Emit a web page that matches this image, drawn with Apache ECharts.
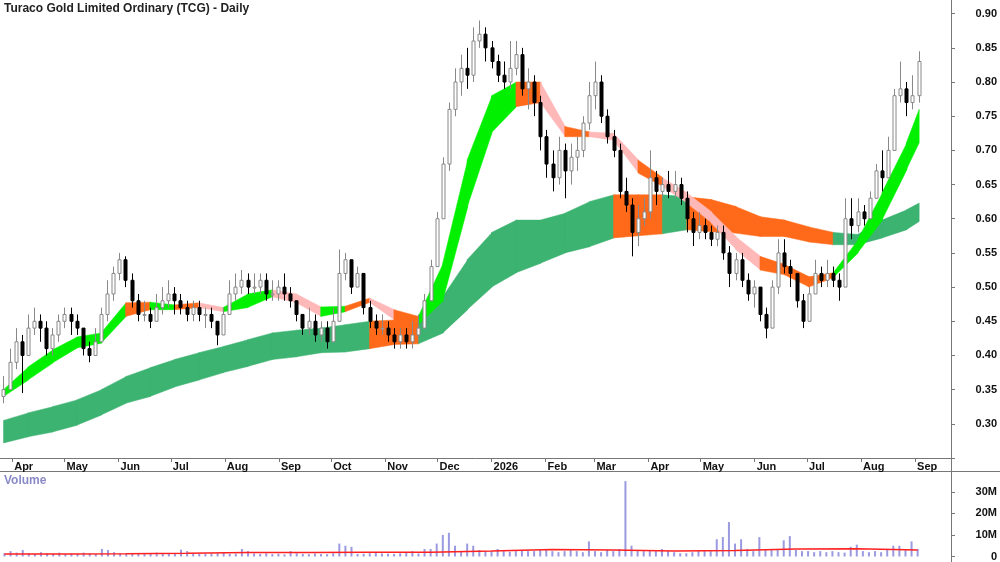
<!DOCTYPE html>
<html><head><meta charset="utf-8">
<script src="https://cdn.jsdelivr.net/npm/echarts@6/dist/echarts.min.js"></script>
<style>html,body{margin:0;padding:0;background:#fff}#c{width:1000px;height:562px}</style>
</head><body><div id="c"></div>
<script>
// OHLC bars [open, close, low, high], one every half week starting 2025-03-27
const bars = [
[0.34,0.35,0.33,0.37],[0.35,0.39,0.35,0.41],[0.39,0.42,0.38,0.44],[0.42,0.40,0.345,0.43],[0.40,0.44,0.40,0.46],
[0.44,0.45,0.43,0.47],[0.45,0.44,0.42,0.46],[0.44,0.41,0.40,0.45],[0.41,0.43,0.40,0.44],[0.43,0.45,0.42,0.46],
[0.45,0.46,0.44,0.47],[0.46,0.45,0.43,0.47],[0.45,0.44,0.43,0.46],[0.44,0.41,0.40,0.44],[0.41,0.40,0.39,0.42],
[0.40,0.42,0.40,0.44],[0.42,0.46,0.42,0.47],[0.46,0.49,0.45,0.51],[0.49,0.52,0.48,0.53],[0.52,0.54,0.51,0.55],
[0.54,0.51,0.50,0.545],[0.51,0.48,0.47,0.52],[0.48,0.46,0.45,0.49],[0.46,0.46,0.45,0.48],[0.46,0.45,0.44,0.47],
[0.45,0.47,0.45,0.49],[0.47,0.48,0.46,0.50],[0.48,0.49,0.47,0.51],[0.49,0.48,0.46,0.50],[0.48,0.47,0.46,0.49],
[0.47,0.46,0.45,0.48],[0.46,0.47,0.45,0.48],[0.47,0.46,0.45,0.48],[0.46,0.46,0.44,0.47],[0.46,0.45,0.44,0.47],
[0.45,0.43,0.415,0.45],[0.43,0.46,0.43,0.47],[0.46,0.49,0.46,0.51],[0.49,0.50,0.48,0.52],[0.50,0.51,0.49,0.525],
[0.51,0.50,0.49,0.52],[0.50,0.50,0.49,0.52],[0.50,0.51,0.49,0.52],[0.51,0.49,0.48,0.52],[0.49,0.49,0.48,0.51],
[0.49,0.50,0.48,0.51],[0.50,0.49,0.48,0.52],[0.49,0.48,0.47,0.50],[0.48,0.46,0.45,0.48],[0.46,0.44,0.43,0.46],
[0.44,0.45,0.43,0.47],[0.45,0.43,0.42,0.46],[0.43,0.44,0.42,0.45],[0.44,0.42,0.41,0.45],[0.42,0.45,0.42,0.47],
[0.45,0.52,0.45,0.555],[0.52,0.54,0.51,0.55],[0.54,0.50,0.49,0.54],[0.50,0.52,0.50,0.53],[0.52,0.47,0.46,0.52],
[0.47,0.45,0.44,0.48],[0.45,0.44,0.43,0.46],[0.44,0.44,0.43,0.46],[0.44,0.43,0.42,0.45],[0.43,0.42,0.41,0.44],
[0.42,0.43,0.41,0.44],[0.43,0.42,0.41,0.44],[0.42,0.43,0.41,0.45],[0.43,0.44,0.42,0.46],[0.44,0.48,0.44,0.49],
[0.48,0.53,0.48,0.54],[0.53,0.60,0.53,0.61],[0.60,0.68,0.60,0.69],[0.68,0.76,0.67,0.77],[0.76,0.80,0.75,0.82],
[0.80,0.82,0.78,0.84],[0.82,0.81,0.79,0.85],[0.81,0.86,0.80,0.88],[0.86,0.87,0.85,0.89],[0.87,0.85,0.83,0.88],
[0.85,0.83,0.82,0.86],[0.83,0.81,0.80,0.84],[0.81,0.80,0.79,0.83],[0.80,0.82,0.79,0.86],[0.82,0.84,0.81,0.86],
[0.84,0.79,0.78,0.85],[0.79,0.80,0.76,0.82],[0.80,0.77,0.75,0.81],[0.77,0.72,0.70,0.78],[0.72,0.68,0.66,0.73],
[0.68,0.66,0.64,0.70],[0.66,0.70,0.65,0.72],[0.70,0.67,0.63,0.71],[0.67,0.69,0.65,0.71],[0.69,0.70,0.67,0.72],
[0.70,0.74,0.69,0.75],[0.74,0.78,0.73,0.80],[0.78,0.80,0.76,0.83],[0.80,0.75,0.74,0.81],[0.75,0.72,0.71,0.76],
[0.72,0.70,0.69,0.73],[0.70,0.64,0.63,0.71],[0.64,0.62,0.61,0.66],[0.62,0.58,0.545,0.63],[0.58,0.60,0.56,0.62],
[0.60,0.61,0.59,0.63],[0.61,0.66,0.60,0.70],[0.66,0.64,0.62,0.67],[0.64,0.65,0.63,0.66],[0.65,0.64,0.63,0.67],
[0.64,0.65,0.63,0.67],[0.65,0.63,0.62,0.66],[0.63,0.60,0.58,0.64],[0.60,0.58,0.56,0.61],[0.58,0.59,0.57,0.61],
[0.59,0.58,0.57,0.60],[0.58,0.57,0.56,0.59],[0.57,0.58,0.56,0.59],[0.58,0.55,0.54,0.59],[0.55,0.52,0.50,0.56],
[0.52,0.54,0.51,0.55],[0.54,0.51,0.50,0.55],[0.51,0.49,0.48,0.52],[0.49,0.50,0.47,0.51],[0.50,0.46,0.45,0.50],
[0.46,0.44,0.425,0.47],[0.44,0.50,0.44,0.51],[0.50,0.55,0.49,0.57],[0.55,0.53,0.52,0.57],[0.53,0.52,0.50,0.54],
[0.52,0.48,0.47,0.52],[0.48,0.45,0.44,0.49],[0.45,0.49,0.45,0.50],[0.49,0.52,0.49,0.54],[0.52,0.51,0.50,0.53],
[0.51,0.52,0.50,0.54],[0.52,0.51,0.50,0.53],[0.51,0.50,0.48,0.52],[0.50,0.60,0.50,0.63],[0.60,0.59,0.57,0.63],
[0.59,0.61,0.58,0.63],[0.61,0.60,0.59,0.62],[0.60,0.63,0.60,0.64],[0.63,0.67,0.63,0.68],[0.67,0.66,0.64,0.70],
[0.66,0.70,0.66,0.72],[0.70,0.78,0.70,0.79],[0.78,0.79,0.77,0.83],[0.79,0.77,0.75,0.80],[0.77,0.78,0.76,0.81],
[0.78,0.83,0.77,0.845]
];
// volume in millions, one per bar
const volume = [
1.5,2.5,1.8,3,1.5,1.2,2,1.5,1.3,1.8, 1.2,1.5,1.3,1.8,1.4,1.2,3.5,3,2,1.5,
1.4,1.2,1.5,1.6,1.3,1.8,1.2,1.4,1.5,3.2, 2.5,1.5,1.3,1.2,1.4,1.5,1.8,1.2,1.3,3.5,
2.5,1.4,1.2,1.5,1.1,1.3,1.0,2.5,1.5,1.2, 1.1,1.4,1.2,1.1,1.5,6,5,4.5,1.2,1.3,
1.5,2.0,1.4,1.3,1.2,1.5,1.8,2.5,1.4,3.5, 3.5,6,10,11,5,2.5,6,5,3,2.5,
2.5,3.5,2.5,2.2,2.5,3,2.5,2.5,3,3.5, 2.5,2,2.5,3,2.5,2,7,2.5,2,3,
2.5,3.5,35,5,2.5,2.5,3,2.5,3.5,2.5, 2,1.5,1.5,2,2.5,2.5,2.5,8,9,16,
6,8,3.5,2.5,9,3,3.5,3,7.5,9.5, 3,2.5,2.5,2,2.5,2,2.5,2,1.8,4.5,
5.5,2.5,2,2.5,2,3,5,5,3,7, 3.5
];
// average volume (millions), one value every 10 bars
const avgVolume = [1.2,1.3,1.5,1.8,1.8,2.0,2.0,2.5,3.3,3.0,2.6,2.8,3.5,3.6,3.0,3.0];
// short ribbon every 4 bars: top, bottom, colour code (g=green, o=orange, p=pink)
const shortTop = [0.35,0.383,0.408,0.427,0.433,0.477,0.478,0.474,0.477,0.47,0.49,0.496,0.49,0.471,0.472,0.484,0.467,0.457,0.535,0.686,0.78,0.80,0.80,0.735,0.727,0.725,0.686,0.66,0.638,0.61,0.574,0.545,0.533,0.515,0.521,0.569,0.638,0.711,0.76];
const shortBot = [0.34,0.364,0.389,0.411,0.418,0.457,0.467,0.467,0.470,0.464,0.47,0.486,0.477,0.457,0.464,0.478,0.452,0.445,0.48,0.617,0.726,0.764,0.77,0.72,0.72,0.715,0.667,0.647,0.623,0.594,0.555,0.525,0.518,0.50,0.514,0.55,0.598,0.672,0.711];
const shortCol = ['g','g','g','g','g','g','o','g','o','p','g','g','p','p','g','o','p','o','g','g','g','g','o','p','o','p','p','o','p','p','p','p','o','o','o','g','g','g','g'];
// long ribbon every 4 bars
const longTop = [0.305,0.316,0.325,0.335,0.35,0.369,0.382,0.394,0.404,0.413,0.423,0.433,0.437,0.44,0.445,0.45,0.452,0.452,0.486,0.54,0.58,0.598,0.598,0.608,0.625,0.635,0.635,0.635,0.632,0.628,0.618,0.603,0.598,0.588,0.58,0.577,0.598,0.613,0.623];
const longBot = [0.272,0.281,0.288,0.298,0.313,0.33,0.34,0.354,0.364,0.375,0.384,0.394,0.398,0.404,0.405,0.41,0.416,0.417,0.433,0.467,0.50,0.521,0.535,0.55,0.559,0.572,0.575,0.578,0.584,0.581,0.579,0.574,0.574,0.566,0.562,0.562,0.572,0.584,0.596];
const longCol = ['g','g','g','g','g','g','g','g','g','g','g','g','g','g','g','g','o','o','g','g','g','g','g','g','g','g','o','o','g','o','o','o','o','o','o','g','g','g','g'];
const monthNames = ['Jan','Feb','Mar','Apr','May','Jun','Jul','Aug','Sep','Oct','Nov','Dec'];

const DAY = 86400000;
const t0 = Date.UTC(2025,2,27);
const tOf = i => t0 + i*3.5*DAY;
const xMin = Date.UTC(2025,2,25), xMax = xMin + 545.6*DAY;
const ribIdx = k => Math.min(k*4, bars.length-1);
const colors = {g:'#00f000', o:'#ff6a1a', p:'#ffb8b8', G:'#3cb371'};

const candleData = bars.map((b,i)=>[tOf(i), b[0], b[1], b[2], b[3]]);
function ribbonData(top, bot, col, longR){
  const out=[];
  for(let k=1;k<top.length;k++){
    out.push([tOf(ribIdx(k-1)), tOf(ribIdx(k)), top[k-1], top[k], bot[k-1], bot[k], (longR && col[k]==='g')?'G':col[k]]);
  }
  return out;
}
function ribbonRender(params, api){
  const a=api.coord([api.value(0),api.value(2)]), b=api.coord([api.value(1),api.value(3)]);
  const c=api.coord([api.value(1),api.value(5)]), d=api.coord([api.value(0),api.value(4)]);
  const col = colors[api.value(6)];
  return {type:'polygon', shape:{points:[a,[b[0]+0.6,b[1]],[c[0]+0.6,c[1]],d]}, style:{fill:col, stroke:col, lineWidth:0.5}};
}
const longData = ribbonData(longTop, longBot, longCol, true);
const shortData = ribbonData(shortTop, shortBot, shortCol, false);
const volData = volume.map((v,i)=>[tOf(i), v]);
const avgData = avgVolume.map((v,k)=>[tOf(Math.min(k*10, bars.length-1)), v]);

const chart = echarts.init(document.getElementById('c'));
const lbl = {fontFamily:'Liberation Sans, Arial', fontWeight:'bold', fontSize:11, color:'#111'};
chart.setOption({
  animation:false,
  grid:[{left:0,right:49,top:0,height:458},{left:0,right:49,top:471,height:86}],
  xAxis:[
    {type:'time', gridIndex:0, min:xMin, max:xMax, minInterval:28*DAY, maxInterval:31*DAY,
     axisLine:{lineStyle:{color:'#777'}}, axisTick:{show:true,length:4,lineStyle:{color:'#777'}}, splitLine:{show:false},
     axisLabel:Object.assign({}, lbl, {margin:3, align:'left', padding:[0,0,0,2], hideOverlap:false,
       formatter:v=>{const d=new Date(v); return d.getUTCMonth()===0? String(d.getUTCFullYear()) : monthNames[d.getUTCMonth()];}})},
    {type:'time', gridIndex:1, min:xMin, max:xMax, show:false}
  ],
  yAxis:[
    {type:'value', gridIndex:0, position:'right', min:0.25, max:0.92, interval:0.05,
     axisLine:{show:true,lineStyle:{color:'#777'}}, axisTick:{show:true,length:4,lineStyle:{color:'#777'}}, splitLine:{show:false},
     axisLabel:Object.assign({}, lbl, {align:'right', margin:46, showMaxLabel:false, formatter:v=> (v<0.29||v>0.91)?'':v.toFixed(2)})},
    {type:'value', gridIndex:1, position:'right', min:0, max:39.7, interval:10,
     axisLine:{show:true,lineStyle:{color:'#777'}}, axisTick:{show:true,length:4,lineStyle:{color:'#777'}}, splitLine:{show:false},
     axisLabel:Object.assign({}, lbl, {align:'right', margin:46, showMaxLabel:false, formatter:v=> v===0?'0':(v>35?'':v+'M')})}
  ],
  graphic:[
    {type:'text', left:4, top:3, style:{text:'Turaco Gold Limited Ordinary (TCG) - Daily', font:'bold 12px "Liberation Sans", Arial', fill:'#222'}},
    {type:'text', left:4, top:475, style:{text:'Volume', font:'bold 12px "Liberation Sans", Arial', fill:'#8a8ac8'}},
    {type:'line', shape:{x1:0,y1:471.5,x2:1000,y2:471.5}, style:{stroke:'#777',lineWidth:1}},
    {type:'line', shape:{x1:951.5,y1:0,x2:951.5,y2:562}, style:{stroke:'#777',lineWidth:1}}
  ],
  series:[
    {type:'custom', xAxisIndex:0, yAxisIndex:0, data:longData, encode:{x:[0,1], y:[2,3,4,5]}, renderItem:ribbonRender, z:1},
    {type:'custom', xAxisIndex:0, yAxisIndex:0, data:shortData, encode:{x:[0,1], y:[2,3,4,5]}, renderItem:ribbonRender, z:2},
    {type:'custom', xAxisIndex:0, yAxisIndex:0, data:candleData, encode:{x:0, y:[1,2,3,4]}, z:3,
     renderItem:(params, api)=>{
       const t=api.value(0), o=api.value(1), c=api.value(2), l=api.value(3), h=api.value(4);
       const up = c>=o;
       const pl=api.coord([t,l]), ph=api.coord([t,h]), po=api.coord([t,o]), pc=api.coord([t,c]);
       const x=Math.round(pl[0])+0.5;
       const top=Math.min(po[1],pc[1]), ht=Math.max(Math.abs(po[1]-pc[1]),1);
       return {type:'group', children:[
         {type:'line', shape:{x1:x,y1:ph[1],x2:x,y2:pl[1]}, style:{stroke: up?'#888':'#000', lineWidth:1}},
         {type:'rect', shape:{x:x-1.5,y:top,width:3,height:ht}, style:{fill: up?'#fff':'#000', stroke: up?'#888':'#000', lineWidth:1}}
       ]};
     }},
    {type:'bar', xAxisIndex:1, yAxisIndex:1, data:volData, barWidth:2, itemStyle:{color:'#9a9ae0'}},
    {type:'line', xAxisIndex:1, yAxisIndex:1, data:avgData, step:'end', symbol:'none', lineStyle:{color:'#ff2020', width:1.5}, z:5}
  ]
});
</script></body></html>
